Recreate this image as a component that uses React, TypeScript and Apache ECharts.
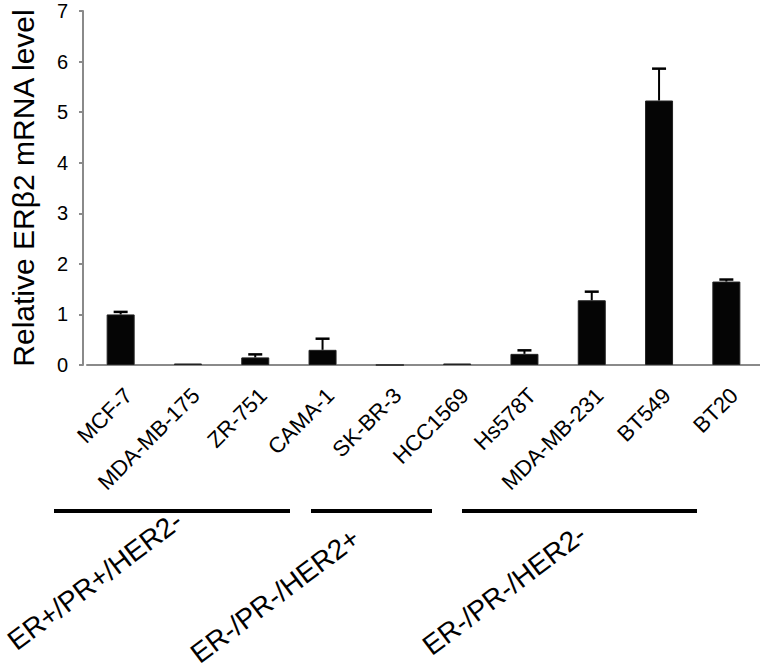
import React, { useEffect, useRef } from "react";
import * as echarts from "echarts";

const categories = [
  "MCF-7",
  "MDA-MB-175",
  "ZR-751",
  "CAMA-1",
  "SK-BR-3",
  "HCC1569",
  "Hs578T",
  "MDA-MB-231",
  "BT549",
  "BT20",
];
const values = [1.0, 0.03, 0.15, 0.3, 0.0, 0.03, 0.22, 1.28, 5.23, 1.65];
const errors = [0.05, 0.0, 0.06, 0.22, 0.0, 0.0, 0.07, 0.17, 0.63, 0.04];
const yTicks = [0, 1, 2, 3, 4, 5, 6, 7];
const groups = ["ER+/PR+/HER2-", "ER-/PR-/HER2+", "ER-/PR-/HER2-"];

const FONT = "'Liberation Sans', Arial, Helvetica, sans-serif";

export default function App() {
  const ref = useRef<HTMLDivElement>(null);
  useEffect(() => {
    if (!ref.current) return;
    const chart = echarts.init(ref.current, null, { renderer: "svg" });
    const errData = categories
      .map((c, i) => [i, values[i], errors[i]])
      .filter((d) => d[2] > 0);
    const deg = Math.PI / 180;
    const groupRot = 37 * deg;
    const groupText = (text: string, x: number, y: number) => ({
      type: "text",
      x,
      y,
      rotation: groupRot,
      style: {
        text,
        fill: "#000",
        font: `28px ${FONT}`,
        textAlign: "left",
        textVerticalAlign: "middle",
      },
    });
    chart.setOption({
      animation: false,
      backgroundColor: "#ffffff",
      textStyle: { fontFamily: FONT },
      grid: { left: 86, right: 0, top: 11, bottom: 303 },
      xAxis: {
        type: "category",
        data: categories,
        axisLine: { show: true, lineStyle: { color: "#8a8a8a", width: 2 } },
        axisTick: { show: false },
        axisLabel: {
          interval: 0,
          rotate: 45,
          margin: 19,
          verticalAlign: "top",
          color: "#000",
          fontSize: 22,
          fontFamily: FONT,
        },
      },
      yAxis: {
        type: "value",
        min: 0,
        max: 7,
        interval: 1,
        offset: 4,
        name: "Relative ERβ2 mRNA level",
        nameLocation: "middle",
        nameRotate: 90,
        nameGap: 45,
        nameTextStyle: { color: "#000", fontSize: 30, fontFamily: FONT },
        axisLine: { show: true, lineStyle: { color: "#8a8a8a", width: 2 } },
        axisTick: { show: true, length: 4, lineStyle: { color: "#8a8a8a", width: 2 } },
        splitLine: { show: false },
        axisLabel: {
          color: "#000",
          fontSize: 20,
          margin: 15,
          fontFamily: FONT,
          formatter: (v: number) => (yTicks.includes(v) ? String(v) : ""),
        },
      },
      series: [
        {
          type: "bar",
          data: values,
          barWidth: 28,
          itemStyle: { color: "#050505", borderColor: "#222", borderWidth: 1 },
          z: 2,
        },
        {
          type: "custom",
          data: errData,
          z: 3,
          renderItem: (params: any, api: any) => {
            const x = api.value(0);
            const v = api.value(1);
            const e = api.value(2);
            const base = api.coord([x, v]);
            const top = api.coord([x, v + e]);
            const half = 7;
            return {
              type: "group",
              children: [
                {
                  type: "line",
                  shape: { x1: base[0], y1: base[1], x2: top[0], y2: top[1] },
                  style: { stroke: "#000", lineWidth: 2 },
                },
                {
                  type: "line",
                  shape: { x1: top[0] - half, y1: top[1], x2: top[0] + half, y2: top[1] },
                  style: { stroke: "#000", lineWidth: 2.5 },
                },
              ],
            };
          },
        },
      ],
      graphic: [
        { type: "line", shape: { x1: 54, y1: 511, x2: 290, y2: 511 }, style: { stroke: "#000", lineWidth: 4 } },
        { type: "line", shape: { x1: 311, y1: 511, x2: 432, y2: 511 }, style: { stroke: "#000", lineWidth: 4 } },
        { type: "line", shape: { x1: 462, y1: 511, x2: 697, y2: 511 }, style: { stroke: "#000", lineWidth: 4 } },
        groupText(groups[0], 11, 644),
        groupText(groups[1], 194, 657),
        groupText(groups[2], 426, 649),
      ],
    });
    return () => chart.dispose();
  }, []);
  return <div ref={ref} style={{ width: 760, height: 668, position: "absolute", left: 0, top: 0 }} />;
}
